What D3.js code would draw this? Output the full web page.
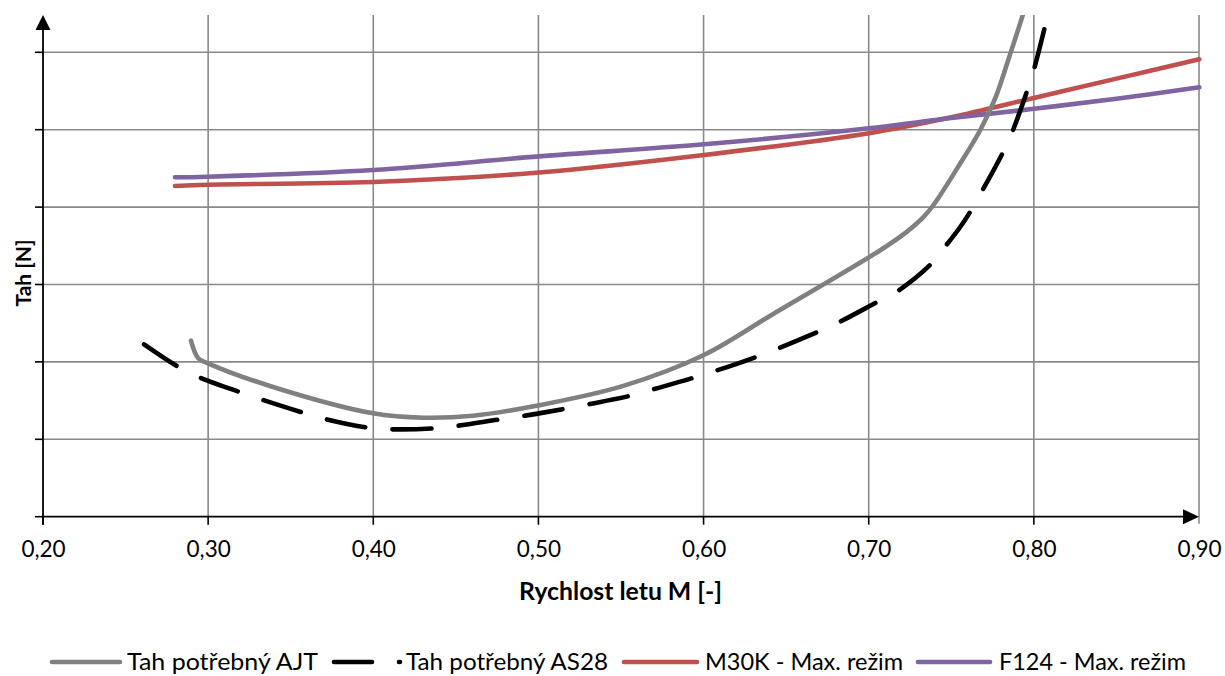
<!DOCTYPE html>
<html><head><meta charset="utf-8">
<script src="https://cdn.jsdelivr.net/npm/d3@7"></script>
<style>body{margin:0;background:#fff}svg{display:block}text{font-family:Lato,"Open Sans",sans-serif}</style>
</head><body>
<svg id="c" width="1225" height="676"></svg>
<script>
// Data (M [-], thrust in relative gridline units — y axis unlabeled)
const xTicks = [0.2,0.3,0.4,0.5,0.6,0.7,0.8,0.9];
const yTicks = [0,1,2,3,4,5,6];
const seriesNames = ["Tah potřebný AJT","Tah potřebný AS28","M30K - Max. režim","F124 - Max. režim"];
const ajtM = [0.2896,0.2940,0.2999,0.3393,0.3998,0.4301,0.4604,0.5004,0.5514,0.6002,0.6422,0.7068,0.7230,0.7331,0.7400,0.7553,0.7674,0.7765,0.7845,0.7936];
const ajtT = [2.274,2.047,1.982,1.676,1.336,1.279,1.305,1.440,1.690,2.089,2.620,3.440,3.680,3.870,4.050,4.560,4.990,5.400,5.900,6.500];
const as28M = [0.2612,0.2834,0.2961,0.3203,0.3332,0.3587,0.3718,0.3970,0.4112,0.4374,0.4515,0.4767,0.4907,0.5004,0.5312,0.5557,0.5696,0.5948,0.6322,0.6695,0.6826,0.7048,0.7170,0.7371,0.7462,0.7553,0.7603,0.7684,0.7805,0.7866,0.7946,0.7997,0.8063];
const as28T = [2.227,1.917,1.788,1.602,1.508,1.336,1.258,1.150,1.129,1.142,1.176,1.258,1.301,1.335,1.456,1.563,1.646,1.801,2.067,2.390,2.519,2.770,2.907,3.252,3.488,3.740,3.900,4.199,4.673,4.953,5.420,5.750,6.297];
const m30kM = [0.2799,0.2999,0.3998,0.5004,0.6002,0.7002,0.7500,0.8000,0.8500,0.9002];
const m30kT = [4.273,4.289,4.324,4.447,4.673,4.955,5.160,5.410,5.660,5.910];
const f124M = [0.2799,0.2999,0.3998,0.5004,0.6002,0.7002,0.7500,0.8000,0.8500,0.9002];
const f124T = [4.385,4.393,4.479,4.655,4.811,5.018,5.150,5.270,5.400,5.548];

const svg = d3.select("#c");
const L=43, R=1199, B=516.7, T=15;
const x = d3.scaleLinear().domain([0.2,0.9]).range([L,R]);
const y = d3.scaleLinear().domain([0,6]).range([B,52.3]);
const grid="#898989";

// gridlines
svg.append("g").selectAll("line").data(yTicks.filter(d=>d>0)).join("line")
  .attr("x1",L).attr("x2",R).attr("y1",d=>y(d)).attr("y2",d=>y(d))
  .attr("stroke",grid).attr("stroke-width",1.6);
svg.append("g").selectAll("line").data(xTicks.filter(d=>d>0.2)).join("line")
  .attr("x1",d=>x(d)).attr("x2",d=>x(d)).attr("y1",T).attr("y2",d=>d===0.9?B+7:B)
  .attr("stroke",grid).attr("stroke-width",1.6);

// axes
const xa = svg.append("g").attr("transform",`translate(0,${B})`)
  .call(d3.axisBottom(x).tickValues(xTicks).tickSize(0).tickPadding(24).tickFormat(d=>d3.format(".2f")(d).replace(".",",")));
xa.select(".domain").remove();
xa.selectAll("text").attr("font-size",22.5).attr("fill","#000").attr("font-family","Lato");
svg.append("g").selectAll("line").data(xTicks.filter(d=>d<0.9)).join("line")
  .attr("x1",d=>x(d)).attr("x2",d=>x(d)).attr("y1",B).attr("y2",B+8).attr("stroke","#000").attr("stroke-width",1.6);
svg.append("g").selectAll("line").data(yTicks).join("line")
  .attr("x1",L-8).attr("x2",L).attr("y1",d=>y(d)).attr("y2",d=>y(d)).attr("stroke","#000").attr("stroke-width",1.6);
svg.append("line").attr("x1",L).attr("x2",R-12).attr("y1",B).attr("y2",B).attr("stroke","#000").attr("stroke-width",1.8);
svg.append("line").attr("x1",L).attr("x2",L).attr("y1",B+8).attr("y2",T+12).attr("stroke","#000").attr("stroke-width",1.8);
svg.append("path").attr("d",`M${L},${T} L${L-7.5},${T+15} L${L+7.5},${T+15} Z`).attr("fill","#000");
svg.append("path").attr("d",`M${R},${B} L${R-16},${B-7.5} L${R-16},${B+7.5} Z`).attr("fill","#000");

// titles
svg.append("text").attr("x",620.5).attr("y",600).attr("text-anchor","middle").attr("font-weight","bold").attr("font-size",25)
  .attr("textLength",203).attr("lengthAdjust","spacingAndGlyphs").text("Rychlost letu M [-]");
svg.append("text").attr("transform","translate(31,273) rotate(-90)").attr("text-anchor","middle").attr("font-weight","bold").attr("font-size",21).text("Tah [N]");

// series
svg.append("clipPath").attr("id","clip").append("rect").attr("x",L).attr("y",T).attr("width",R-L+3).attr("height",B-T);
const line = d3.line().x(d=>x(d[0])).y(d=>y(d[1])).curve(d3.curveCatmullRom.alpha(0.5));
const zip=(a,b)=>a.map((v,i)=>[v,b[i]]);
const series=[
  {d:zip(ajtM,ajtT),c:"#808080",dash:false},
  {d:zip(as28M,as28T),c:"#000000",dash:true},
  {d:zip(m30kM,m30kT),c:"#C0504D",dash:false},
  {d:zip(f124M,f124T),c:"#8064A2",dash:false}
];
const DASH=38, GAP=27;
const g=svg.append("g").attr("clip-path","url(#clip)");
[2,3,0,1].forEach(i=>{
  const s=series[i];
  const p=g.append("path").attr("d",line(s.d)).attr("fill","none").attr("stroke",s.c).attr("stroke-width",4.6)
   .attr("stroke-linecap","round").attr("stroke-linejoin","round");
  if(s.dash){
    const len=p.node().getTotalLength();
    const n=Math.round((len+GAP)/(DASH+GAP));
    const k=len/(n*DASH+(n-1)*GAP);
    p.attr("stroke-dasharray",`${DASH*k} ${GAP*k}`);
  }
});

// legend
const legX=[[52,120,127,191],[334,400,406,202],[624,697,705,198],[918,990,999,187]];
const legY=662;
series.forEach((s,i)=>{
  svg.append("line").attr("x1",legX[i][0]).attr("x2",legX[i][1]).attr("y1",legY).attr("y2",legY)
    .attr("stroke",s.c).attr("stroke-width",4.6).attr("stroke-linecap","round").attr("stroke-dasharray",s.dash?`${DASH} ${GAP}`:null);
  svg.append("text").attr("x",legX[i][2]).attr("y",legY+8).attr("font-size",24)
    .attr("textLength",legX[i][3]).attr("lengthAdjust","spacingAndGlyphs").text(seriesNames[i]);
});
</script>
</body></html>
